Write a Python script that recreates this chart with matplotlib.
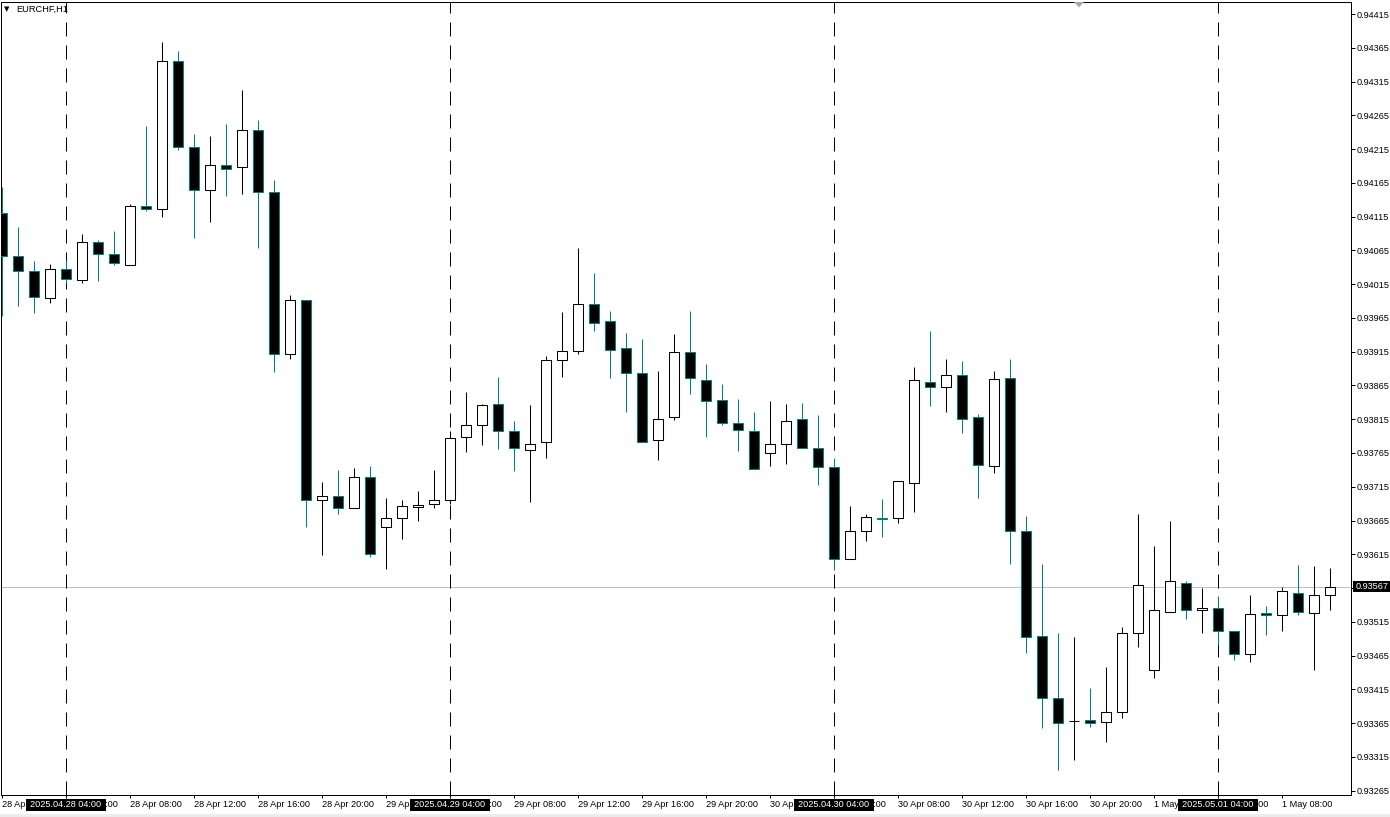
import matplotlib
matplotlib.use('Agg')
import matplotlib.pyplot as plt
from matplotlib.transforms import blended_transform_factory
from matplotlib.patches import Rectangle, Polygon
import numpy as np
import pandas as pd

# ---------------- data (EURCHF H1, prices in 1e-5 points) ----------------
opens = [94121, 94057, 94034, 93995, 94038, 94021, 94078, 94059, 94044, 94131,
         94126, 94345, 94218, 94155, 94192, 94188, 94243, 94152, 93911, 93991,
         93695, 93702, 93683, 93729, 93655, 93668, 93685, 93689, 93695, 93788,
         93807, 93837, 93797, 93770, 93781, 93902, 93916, 93985, 93960, 93921,
         93883, 93784, 93818, 93914, 93873, 93843, 93809, 93797, 93765, 93778,
         93815, 93772, 93744, 93608, 93650, 93668, 93668, 93720, 93870, 93862,
         93880, 93818, 93745, 93876, 93650, 93494, 93402, 93368, 93369, 93366,
         93382, 93498, 93443, 93529, 93572, 93532, 93535, 93501, 93467, 93528,
         93525, 93557, 93528, 93554]
highs = [94159, 94100, 94049, 94045, 94051, 94089, 94081, 94094, 94133, 94249,
         94374, 94360, 94237, 94234, 94252, 94302, 94258, 94169, 93999, 93992,
         93722, 93740, 93743, 93746, 93698, 93695, 93709, 93740, 93797, 93855,
         93837, 93877, 93812, 93836, 93908, 93974, 94069, 94031, 93975, 93943,
         93934, 93886, 93941, 93975, 93897, 93867, 93845, 93826, 93842, 93838,
         93839, 93821, 93757, 93686, 93675, 93697, 93724, 93892, 93946, 93904,
         93901, 93822, 93886, 93904, 93671, 93600, 93498, 93492, 93417, 93448,
         93507, 93675, 93627, 93665, 93575, 93565, 93553, 93502, 93554, 93538,
         93566, 93599, 93597, 93594]
lows = [93968, 93982, 93973, 93987, 94017, 94017, 94019, 94044, 94043, 94124,
        94115, 94214, 94084, 94107, 94146, 94149, 94069, 93885, 93904, 93656,
        93614, 93674, 93683, 93611, 93593, 93637, 93665, 93683, 93689, 93767,
        93777, 93771, 93739, 93693, 93758, 93878, 93912, 93945, 93876, 93825,
        93781, 93754, 93814, 93853, 93789, 93807, 93768, 93742, 93745, 93749,
        93773, 93717, 93592, 93608, 93634, 93640, 93662, 93678, 93835, 93826,
        93795, 93699, 93736, 93600, 93469, 93358, 93295, 93311, 93360, 93337,
        93372, 93477, 93432, 93529, 93519, 93498, 93481, 93458, 93455, 93496,
        93502, 93525, 93444, 93532]
closes = [94056, 94034, 93996, 94038, 94022, 94078, 94059, 94047, 94130, 94126,
          94345, 94218, 94155, 94192, 94186, 94243, 94151, 93911, 93991, 93696,
          93702, 93683, 93729, 93615, 93668, 93686, 93688, 93695, 93787, 93807,
          93836, 93797, 93772, 93779, 93902, 93916, 93985, 93957, 93917, 93883,
          93782, 93815, 93914, 93876, 93842, 93810, 93799, 93742, 93779, 93813,
          93773, 93744, 93608, 93650, 93670, 93667, 93723, 93873, 93862, 93880,
          93815, 93747, 93874, 93649, 93492, 93402, 93365, 93368, 93365, 93382,
          93498, 93569, 93533, 93575, 93532, 93536, 93501, 93467, 93526, 93525,
          93560, 93529, 93554, 93567]
times = pd.date_range('2025-04-28 00:00', periods=len(opens), freq='h')
price_ticks = [0.93265 + 0.0005 * k for k in range(24)]
current_price = 0.93567
symbol_label = 'EURCHF,H1'
separator_idx = [4, 28, 52, 76]

# ---------------- figure ----------------
W, H = 1390, 817
TEAL = '#008080'
FONT = ['Liberation Sans', 'DejaVu Sans']
plt.rcParams['font.family'] = FONT
fig = plt.figure(figsize=(W / 100, H / 100), dpi=100)
ax_left, ax_right, ax_top, ax_bot = 0.5, 1350.5, 1.7, 795.0
ax = fig.add_axes([ax_left / W, 1 - ax_bot / H, (ax_right - ax_left) / W, (ax_bot - ax_top) / H])

o = np.array(opens) / 1e5
h = np.array(highs) / 1e5
l = np.array(lows) / 1e5
c = np.array(closes) / 1e5
x = np.arange(len(o))
bull = c >= o
bear = ~bull
LW = 0.75
BW = 0.62

ax.vlines(x[bull], l[bull], h[bull], color='black', lw=LW, zorder=2)
ax.vlines(x[bear], l[bear], h[bear], color=TEAL, lw=LW, zorder=2)
body_lo = np.minimum(o, c)
body_h = np.abs(c - o)
nz = body_h > 0
ax.bar(x[bull & nz], body_h[bull & nz], bottom=body_lo[bull & nz], width=BW,
       facecolor='white', edgecolor='black', linewidth=LW, zorder=3)
ax.bar(x[bear & nz], body_h[bear & nz], bottom=body_lo[bear & nz], width=BW,
       facecolor='black', edgecolor=TEAL, linewidth=LW, zorder=3)
for i in x[~nz]:
    col = 'black' if bull[i] else TEAL
    ax.hlines(o[i], i - BW / 2, i + BW / 2, color=col, lw=LW, zorder=3)

# period separators
for i in separator_idx:
    ax.axvline(i, color='black', lw=0.72, linestyle=(0, (14, 9)), zorder=1)

# current price line
ax.axhline(current_price, color='#c0c0c0', lw=0.72, zorder=0.5)

# limits
px_per_bar = 16.0
x0_px = 1.6
ax.set_xlim((ax_left - x0_px) / px_per_bar, (ax_right - x0_px) / px_per_bar)
pts_per_px = 1.4807e-5
ax.set_ylim(0.94415 - (ax_bot - 14) * pts_per_px, 0.94415 + (14 - ax_top) * pts_per_px)

for s in ax.spines.values():
    s.set_linewidth(0.72)
    s.set_color('black')

# y axis on right
ax.yaxis.tick_right()
ax.set_yticks(price_ticks)
ylabels = ['%.5f' % p for p in price_ticks]
ylabels = ['' if abs(p - current_price) < 0.0001 else t for p, t in zip(price_ticks, ylabels)]
ax.set_yticklabels(ylabels)
ax.tick_params(axis='y', direction='out', length=2.9, width=0.72, pad=1.2, labelsize=6.6)

# x axis ticks
xt = x[::4]
ax.set_xticks(xt)
ax.set_xticklabels([f"{t.day} {t.strftime('%b %H:%M')}" for t in times[::4]])
for lbl in ax.get_xticklabels():
    lbl.set_ha('left')
ax.tick_params(axis='x', direction='out', length=2.5, width=0.72, pad=1.2, labelsize=6.6)

# separator date boxes
bt = blended_transform_factory(ax.transData, ax.transAxes)
ah = ax_bot - ax_top
for i in separator_idx:
    t = times[i]
    ax.add_patch(Rectangle((i - 40 / px_per_bar, (ax_bot - 810.5) / ah), 80 / px_per_bar, 12 / ah,
                           transform=bt, facecolor='black', edgecolor='none', zorder=10, clip_on=False))
    ax.text(i, (ax_bot - 804.3) / ah, t.strftime('%Y.%m.%d %H:%M'), transform=bt, ha='center',
            va='center', color='white', fontsize=6.6, zorder=11, clip_on=False)

# current price box on the right axis
bt2 = blended_transform_factory(ax.transAxes, ax.transData)
aw = ax_right - ax_left
ax.add_patch(Rectangle(((1352.5 - ax_left) / aw, current_price - 5.5 * pts_per_px), 38 / aw, 11 * pts_per_px,
                       transform=bt2, facecolor='black', edgecolor='none', zorder=10, clip_on=False))
ax.text((1355.5 - ax_left) / aw, current_price, '%.5f' % current_price, transform=bt2, ha='left',
        va='center', color='white', fontsize=6.6, zorder=11, clip_on=False)

# symbol label
fig.text(4 / W, 1 - 9.5 / H, '\u25bc', fontsize=5, va='center', ha='left', family=['DejaVu Sans'])
fig.text(16 / W, 1 - 9.5 / H, symbol_label, fontsize=6.7, va='center', ha='left')

# chart shift marker
fig.add_artist(Polygon([(1074 / W, 1 - 2 / H), (1084 / W, 1 - 2 / H), (1079 / W, 1 - 7.5 / H)],
                       closed=True, transform=fig.transFigure, facecolor='#a8a8a8', edgecolor='none'))
# bottom strip
fig.add_artist(Rectangle((0, 0), 1, 3 / H, transform=fig.transFigure, facecolor='#ececec', edgecolor='none'))

fig.savefig('out.png', dpi=100)
